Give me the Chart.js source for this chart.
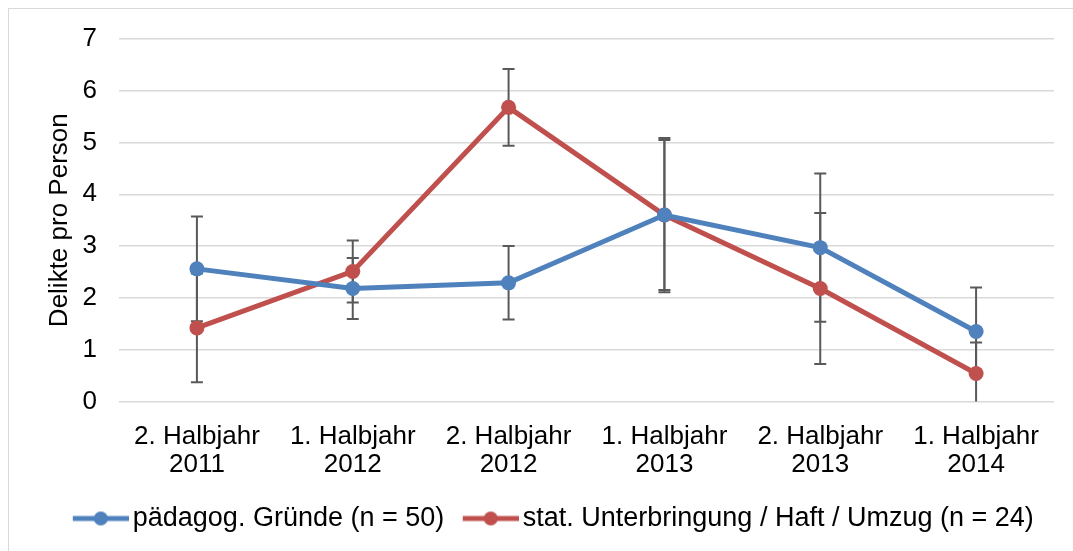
<!DOCTYPE html>
<html>
<head>
<meta charset="utf-8">
<script src="https://cdn.jsdelivr.net/npm/chart.js@4"></script>
<style>
  html, body { margin: 0; padding: 0; background: #fff; }
  #frame { position: absolute; left: 8px; top: 8px; width: 1065px; height: 543px;
           border-top: 1px solid #d9d9d9; border-left: 1px solid #d9d9d9; }
  #chart { position: absolute; left: 0; top: 0; }
</style>
</head>
<body>
<div id="frame"></div>
<canvas id="chart" width="1073" height="551"></canvas>
<script>
const Periods = [["2. Halbjahr", "2011"], ["1. Halbjahr", "2012"], ["2. Halbjahr", "2012"],
                 ["1. Halbjahr", "2013"], ["2. Halbjahr", "2013"], ["1. Halbjahr", "2014"]];

const PaedValue = [2.56, 2.18, 2.29, 3.6, 2.97, 1.35];
const PaedError = [1.01, 0.59, 0.71, 1.49, 1.43, 0.85];

const StatValue = [1.42, 2.51, 5.68, 3.6, 2.18, 0.54];
const StatError = [1.05, 0.6, 0.74, 1.45, 1.46, 0.6];

const SeriesNames = ["pädagog. Gründe (n = 50)", "stat. Unterbringung / Haft / Umzug (n = 24)"];
const Blue = "#4f81bd";
const Red = "#c0504d";

Chart.defaults.font.family = "'Liberation Sans', Arial, sans-serif";
Chart.defaults.color = "#000";

// legend marker: line with dot, like the office chart
// (transparent strip on the left so the marker sits close to its text)
function legendMarker(color) {
    var c = document.createElement("canvas");
    c.width = 74;
    c.height = 16;
    var g = c.getContext("2d");
    g.strokeStyle = color;
    g.lineWidth = 5;
    g.beginPath();
    g.moveTo(18, 8);
    g.lineTo(74, 8);
    g.stroke();
    g.fillStyle = color;
    g.beginPath();
    g.arc(46, 8, 7, 0, Math.PI * 2);
    g.fill();
    return c;
}

// whiskers drawn below the lines
const errorBars = {
    id: "errorBars",
    beforeDatasetsDraw(chart) {
        var ctx = chart.ctx;
        var y = chart.scales.y;
        var area = chart.chartArea;
        ctx.save();
        ctx.beginPath();
        ctx.rect(area.left, area.top, area.right - area.left, area.bottom - area.top);
        ctx.clip();
        ctx.strokeStyle = "#595959";
        ctx.lineWidth = 2;
        chart.data.datasets.forEach(function (ds, i) {
            var meta = chart.getDatasetMeta(i);
            meta.data.forEach(function (pt, j) {
                var v = ds.data[j];
                var e = ds.errors[j];
                var top = y.getPixelForValue(v + e);
                var bot = y.getPixelForValue(v - e);
                ctx.beginPath();
                ctx.moveTo(pt.x, top);
                ctx.lineTo(pt.x, bot);
                ctx.moveTo(pt.x - 6, top);
                ctx.lineTo(pt.x + 6, top);
                ctx.moveTo(pt.x - 6, bot);
                ctx.lineTo(pt.x + 6, bot);
                ctx.stroke();
            });
        });
        ctx.restore();
    }
};

var myChart = new Chart(document.getElementById("chart"), {
    type: 'line',
    data: {
        labels: Periods,
        datasets: [{
            label: SeriesNames[0],
            data: PaedValue,
            errors: PaedError,
            borderColor: Blue,
            backgroundColor: Blue,
            borderWidth: 5,
            pointRadius: 7.5,
            pointHoverRadius: 7.5,
            pointBorderWidth: 0,
            pointStyle: 'circle',
            tension: 0
        }, {
            label: SeriesNames[1],
            data: StatValue,
            errors: StatError,
            borderColor: Red,
            backgroundColor: Red,
            borderWidth: 5,
            pointRadius: 7.5,
            pointHoverRadius: 7.5,
            pointBorderWidth: 0,
            pointStyle: 'circle',
            tension: 0
        }]
    },
    options: {
        responsive: false,
        animation: false,
        layout: { padding: { left: 44, right: 19, top: 39, bottom: 9 } },
        scales: {
            x: {
                offset: true,
                grid: { display: false, drawTicks: false },
                border: { display: false },
                ticks: { font: { size: 26, lineHeight: 1.05 }, padding: 22, maxRotation: 0, autoSkip: false },
                afterFit: function (scale) { scale.height -= 5; }
            },
            y: {
                min: 0,
                max: 7,
                grid: { color: "#d9d9d9", lineWidth: 1.5, drawTicks: false },
                border: { display: false },
                ticks: { stepSize: 1, font: { size: 26 }, padding: 22 },
                title: { display: true, text: "Delikte pro Person", font: { size: 26 }, padding: 0 },
                afterFit: function (scale) { scale.width = 75; }
            }
        },
        plugins: {
            legend: {
                position: 'bottom',
                labels: {
                    font: { size: 27 },
                    usePointStyle: true,
                    pointStyleWidth: 55,
                    padding: 10,
                    generateLabels: function (chart) {
                        return chart.data.datasets.map(function (ds, i) {
                            return {
                                text: ds.label,
                                pointStyle: legendMarker(ds.borderColor),
                                fillStyle: ds.borderColor,
                                strokeStyle: ds.borderColor,
                                lineWidth: 0,
                                datasetIndex: i
                            };
                        });
                    }
                }
            },
            tooltip: { enabled: false }
        }
    },
    plugins: [errorBars]
});
</script>
</body>
</html>
